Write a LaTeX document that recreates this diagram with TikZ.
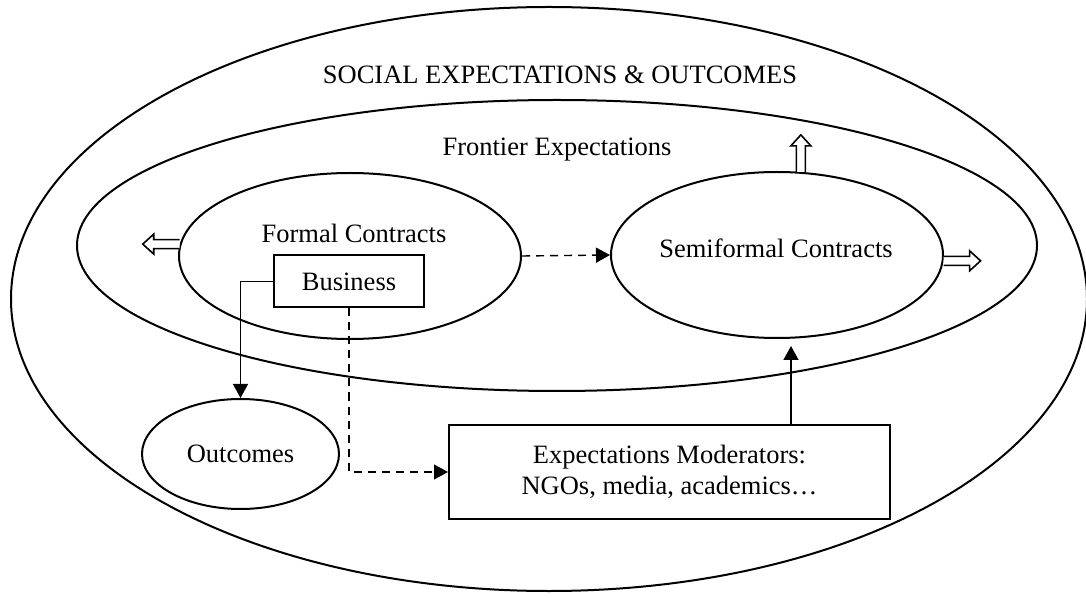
\documentclass[tikz,border=0pt]{standalone}
\usepackage{fontspec}
\setmainfont{Liberation Serif}
\usetikzlibrary{shapes}
\usetikzlibrary{arrows.meta}
\usetikzlibrary{calc}

\tikzset{
  oval/.style = {ellipse, draw, line width = 1pt, inner sep = 0 pt},
  box/.style = {rectangle, draw, line width = 1pt, inner sep = 0 pt, align = center},
  link/.style = {line width = 0.7pt, -{Triangle[length = 7pt, width = 7.5pt]}},
  dashlink/.style = {link, dash pattern = on 4pt off 3pt},
  hollow/.style = {line width = 0.8pt, fill = white, line join = miter},
}

% open block arrow pointing away from a border: start, angle, length
\newcommand{\hollowarrow}[3]{%
  \draw[hollow, shift = {(#1)}, rotate = #2] (0, -4.5) -- (#3 - 11, -4.5) -- (#3 - 11, -10) %
    -- (#3, 0) -- (#3 - 11, 10) -- (#3 - 11, 4.5) -- (0, 4.5);%
}

\begin{document}
\begin{tikzpicture}[x = 0.5pt, y = -0.5pt, font = \fontsize{13.25pt}{15.5pt}\selectfont]
  \useasboundingbox (0, 0) rectangle (1086, 598);

  % nested expectation areas
  \node[oval, minimum width = 538pt, minimum height = 292pt] (social) at (549, 299) {};
  \node[oval, minimum width = 480pt, minimum height = 145.5pt] (frontier) at (557, 245.5) {};
  \node[oval, minimum width = 171pt, minimum height = 83pt] (formal) at (350, 256) {};
  \node[oval, minimum width = 166pt, minimum height = 83pt] (semiformal) at (777, 255) {};
  \node[oval, minimum width = 98.5pt, minimum height = 55pt] (outcomes) at (240.5, 454) {Outcomes};

  \node (social label) at (560, 75) {SOCIAL EXPECTATIONS \& OUTCOMES};
  \node (frontier label) at (557, 150) {Frontier Expectations};
  \node (formal label) at (354, 233) {Formal Contracts};
  \node (semiformal label) at (776, 248) {Semiformal Contracts};

  \node[box, minimum width = 75pt, minimum height = 26pt] (business) at (349, 281.5) {Business};
  \node[box, minimum width = 220.5pt, minimum height = 46.75pt] (moderators) at (669.5, 472) %
    {Expectations Moderators:\\NGOs, media, academics…};

  % links
  \draw[dashlink] (formal.east) -- (semiformal.west);
  \draw[link] (business.west) -| (outcomes.north);
  \draw[dashlink, line width = 0.6pt] (business.south) |- (moderators.west);
  \coordinate (modtop) at ($(moderators.north) + (121.5, 0)$);
  \draw[link, shorten > = 3.5pt] (modtop) -- (modtop |- semiformal.south);

  % frontier pushing outwards
  \hollowarrow{formal.176}{180}{37}
  \hollowarrow{semiformal.-2}{0}{37}
  \hollowarrow{semiformal.74}{90}{37}
\end{tikzpicture}
\end{document}
